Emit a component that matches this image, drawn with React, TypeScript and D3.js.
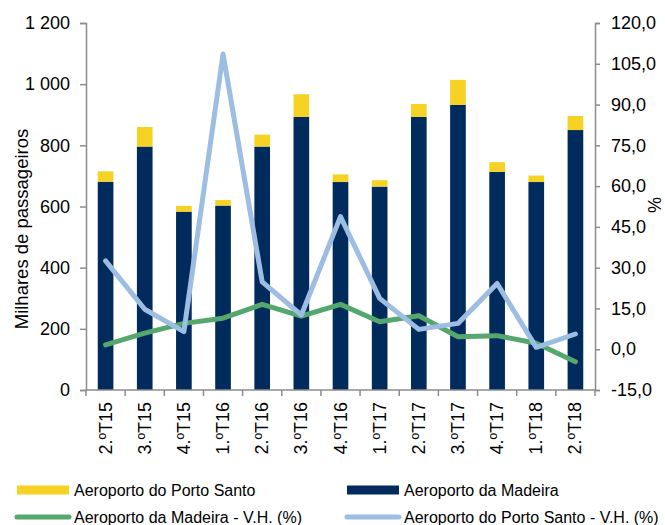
import { useEffect, useRef } from 'react'
import * as d3 from 'd3'

const categories = ['2.ºT15', '3.ºT15', '4.ºT15', '1.ºT16', '2.ºT16', '3.ºT16', '4.ºT16', '1.ºT17', '2.ºT17', '3.ºT17', '4.ºT17', '1.ºT18', '2.ºT18']
const madeira = [681, 796, 583, 603, 796, 893, 680, 665, 893, 932, 713, 680, 850]
const portoSanto = [34, 64, 19, 18, 39, 74, 25, 21, 42, 82, 32, 21, 46]
const madeiraVH = [1.6, 5.9, 9.5, 11.4, 16.5, 12.2, 16.5, 10.1, 12.3, 4.6, 5.0, 2.2, -4.6]
const portoSantoVH = [32.5, 14.7, 6.5, 108.6, 24.8, 12.6, 48.8, 18.7, 7.3, 9.5, 24.2, 0.7, 5.6]
const leftTicks = [0, 200, 400, 600, 800, 1000, 1200]
const rightTicks = [-15, 0, 15, 30, 45, 60, 75, 90, 105, 120]

const colors = {
  yellow: '#F5D223',
  navy: '#002B5C',
  green: '#55A86D',
  blue: '#9DBDE3',
  axis: '#8C8C8C',
  text: '#000',
}
const font = '"Liberation Sans", Arial, sans-serif'

export default function App() {
  const ref = useRef<SVGSVGElement>(null)

  useEffect(() => {
    if (!ref.current) return
    const W = 665
    const H = 525
    const plot = { left: 86, right: 595, top: 23, bottom: 390 }

    const svg = d3.select(ref.current)
    svg.selectAll('*').remove()
    svg.attr('width', W).attr('height', H).style('font-family', font)

    const x = d3.scaleBand().domain(categories).range([plot.left, plot.right]).padding(0)
    const yL = d3.scaleLinear().domain([0, 1200]).range([plot.bottom, plot.top])
    const yR = d3.scaleLinear().domain([-15, 120]).range([plot.bottom, plot.top])
    const barW = x.bandwidth() * 0.4
    const cx = (c: string) => x(c)! + x.bandwidth() / 2

    // Bars: Madeira below, Porto Santo stacked on top
    const g = svg.append('g')
    g.selectAll('.mad')
      .data(categories)
      .join('rect')
      .attr('x', (c) => cx(c) - barW / 2)
      .attr('y', (_, i) => yL(madeira[i]))
      .attr('width', barW)
      .attr('height', (_, i) => plot.bottom - yL(madeira[i]))
      .attr('fill', colors.navy)
    g.selectAll('.ps')
      .data(categories)
      .join('rect')
      .attr('x', (c) => cx(c) - barW / 2)
      .attr('y', (_, i) => yL(madeira[i] + portoSanto[i]))
      .attr('width', barW)
      .attr('height', (_, i) => yL(madeira[i]) - yL(madeira[i] + portoSanto[i]))
      .attr('fill', colors.yellow)

    // Lines
    const line = (vals: number[]) =>
      d3.line<number>().x((_, i) => cx(categories[i])).y((v) => yR(v))(vals)
    ;[
      { vals: madeiraVH, color: colors.green },
      { vals: portoSantoVH, color: colors.blue },
    ].forEach((s) => {
      svg.append('path')
        .attr('d', line(s.vals))
        .attr('fill', 'none')
        .attr('stroke', s.color)
        .attr('stroke-width', 5)
        .attr('stroke-linejoin', 'round')
        .attr('stroke-linecap', 'round')
    })

    // Left axis
    svg.append('g')
      .attr('transform', `translate(${plot.left},0)`)
      .call(d3.axisLeft(yL).tickValues(leftTicks).tickSize(6).tickPadding(10)
        .tickFormat((v) => d3.format(',')(v as number).replace(',', ' ')))
      .call((sel) => sel.selectAll('path,line').attr('stroke', colors.axis).attr('stroke-width', 1.5))
      .call((sel) => sel.selectAll('text').attr('font-size', 18).attr('font-family', font).attr('fill', colors.text))

    // Right axis
    svg.append('g')
      .attr('transform', `translate(${plot.right},0)`)
      .call(d3.axisRight(yR).tickValues(rightTicks).tickSize(5).tickPadding(11)
        .tickFormat((v) => (v as number).toFixed(1).replace('.', ',')))
      .call((sel) => sel.selectAll('path,line').attr('stroke', colors.axis).attr('stroke-width', 1.5))
      .call((sel) => sel.selectAll('text').attr('font-size', 18).attr('font-family', font).attr('fill', colors.text))

    // X axis
    const xa = svg.append('g').attr('transform', `translate(0,${plot.bottom})`)
    xa.append('line')
      .attr('x1', plot.left).attr('x2', plot.right)
      .attr('stroke', colors.axis).attr('stroke-width', 1.5)
    xa.selectAll('.xt')
      .data(d3.range(categories.length + 1))
      .join('line')
      .attr('x1', (i) => plot.left + i * x.step())
      .attr('x2', (i) => plot.left + i * x.step())
      .attr('y1', 0).attr('y2', 6)
      .attr('stroke', colors.axis).attr('stroke-width', 1.5)
    xa.selectAll('.xl')
      .data(categories)
      .join('text')
      .attr('transform', (c) => `translate(${cx(c) + 6},12) rotate(-90)`)
      .attr('text-anchor', 'end')
      .attr('font-size', 18)
      .attr('fill', colors.text)
      .text((c) => c)

    // Axis titles
    svg.append('text')
      .attr('transform', 'translate(28,229) rotate(-90)')
      .attr('text-anchor', 'middle')
      .attr('font-size', 18.5)
      .attr('fill', colors.text)
      .text('Milhares de passageiros')
    svg.append('text')
      .attr('transform', 'translate(648,205) rotate(90)')
      .attr('text-anchor', 'middle')
      .attr('font-size', 18)
      .attr('fill', colors.text)
      .text('%')

    // Legend
    const legend = [
      { label: 'Aeroporto do Porto Santo', color: colors.yellow, kind: 'rect', x: 17, y: 490 },
      { label: 'Aeroporto da Madeira', color: colors.navy, kind: 'rect', x: 347, y: 490 },
      { label: 'Aeroporto da Madeira - V.H. (%)', color: colors.green, kind: 'line', x: 17, y: 517 },
      { label: 'Aeroporto do Porto Santo - V.H. (%)', color: colors.blue, kind: 'line', x: 347, y: 517 },
    ]
    legend.forEach((l) => {
      if (l.kind === 'rect') {
        svg.append('rect').attr('x', l.x).attr('y', l.y - 4.5).attr('width', 52).attr('height', 9).attr('fill', l.color)
      } else {
        svg.append('line').attr('x1', l.x).attr('x2', l.x + 52).attr('y1', l.y).attr('y2', l.y)
          .attr('stroke', l.color).attr('stroke-width', 5).attr('stroke-linecap', 'round')
      }
      svg.append('text')
        .attr('x', l.x + 57)
        .attr('y', l.y + 5.5)
        .attr('font-size', 16)
        .attr('fill', colors.text)
        .text(l.label)
    })
  }, [])

  return <svg ref={ref} style={{ position: 'absolute', left: 0, top: 0, display: 'block' }} />
}
